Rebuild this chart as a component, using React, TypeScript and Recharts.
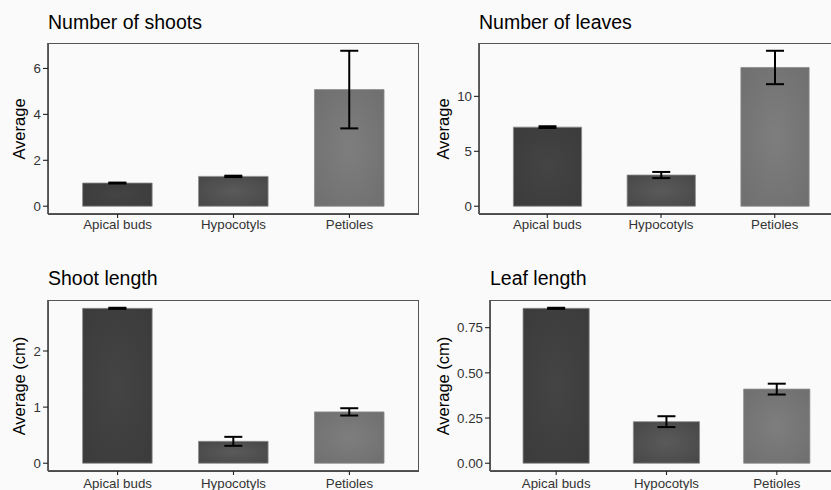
import React from 'react';
import { BarChart, Bar, XAxis, YAxis, ErrorBar, Cell } from 'recharts';

const categories = ['Apical buds', 'Hypocotyls', 'Petioles'];

const shootCount = [1.01, 1.3, 5.08];
const shootCountErr = [0.02, 0.03, 1.69];
const shootCountTicks = [0, 2, 4, 6];

const leafCount = [7.2, 2.84, 12.63];
const leafCountErr = [0.08, 0.28, 1.52];
const leafCountTicks = [0, 5, 10];

const shootLength = [2.76, 0.39, 0.915];
const shootLengthErr = [0.01, 0.08, 0.065];
const shootLengthTicks = [0, 1, 2];

const leafLength = [0.857, 0.23, 0.41];
const leafLengthErr = [0.003, 0.03, 0.03];
const leafLengthTicks = [0, 0.25, 0.5, 0.75];

const barColors = [
  ['#444444', '#3b3b3b'],
  ['#5a5a5a', '#474747'],
  ['#7e7e7e', '#6f6f6f'],
];

const FONT = '"Liberation Sans", Arial, Helvetica, sans-serif';

type Plot = { l: number; t: number; r: number; b: number };

type PanelProps = {
  id: string;
  title: string;
  yLabel: string;
  values: number[];
  errs: number[];
  ticks: number[];
  decimals: number;
  left: number;
  top: number;
  width: number;
  height: number;
  plot: Plot;
  titleBaseline: number;
  yLabelX: number;
  xTickMargin: number;
};

function Panel(p: PanelProps) {
  const data = categories.map((c, i) => ({ name: c, v: p.values[i], e: p.errs[i] }));
  const hi = Math.max(...p.values.map((v, i) => v + p.errs[i]));
  const pad = hi * 0.05;
  const plotW = p.plot.r - p.plot.l;
  const band = plotW / 3.2;
  const padPx = band * 0.1;
  const barSize = band * 0.6;
  const titleSize = 19.5;
  return (
    <div style={{ position: 'absolute', left: p.left, top: p.top, width: p.width, height: p.height }}>
      <div
        style={{
          position: 'absolute',
          left: p.plot.l,
          top: p.titleBaseline - 0.8465 * titleSize,
          fontSize: titleSize,
          lineHeight: 1,
          color: '#000',
          whiteSpace: 'nowrap',
        }}
      >
        {p.title}
      </div>
      <div
        style={{
          position: 'absolute',
          left: p.yLabelX,
          top: (p.plot.t + p.plot.b) / 2,
          transform: 'translate(-50%, -50%) rotate(-90deg)',
          fontSize: 16.5,
          lineHeight: 1,
          color: '#000',
          whiteSpace: 'nowrap',
        }}
      >
        {p.yLabel}
      </div>
      <BarChart
        width={p.width}
        height={p.height}
        data={data}
        margin={{ top: p.plot.t, right: p.width - p.plot.r, left: 0, bottom: 0 }}
      >
        <defs>
          {barColors.map((c, i) => (
            <radialGradient key={i} id={`${p.id}-g${i}`} cx="50%" cy="50%" r="70%">
              <stop offset="0%" stopColor={c[0]} />
              <stop offset="100%" stopColor={c[1]} />
            </radialGradient>
          ))}
        </defs>
        <XAxis
          dataKey="name"
          height={p.height - p.plot.b}
          padding={{ left: padPx, right: padPx }}
          interval={0}
          tickSize={4}
          tickMargin={p.xTickMargin}
          axisLine={{ stroke: '#111', strokeWidth: 1.3 }}
          tickLine={{ stroke: '#222', strokeWidth: 1.1 }}
          tick={{ fill: '#333', fontSize: 13.3, fontFamily: FONT }}
        />
        <YAxis
          type="number"
          domain={[-pad, hi + pad]}
          allowDataOverflow
          ticks={p.ticks}
          width={p.plot.l}
          tickSize={5}
          tickMargin={2}
          tickFormatter={(v: number) => v.toFixed(p.decimals)}
          axisLine={{ stroke: '#111', strokeWidth: 1.3 }}
          tickLine={{ stroke: '#222', strokeWidth: 1.1 }}
          tick={{ fill: '#333', fontSize: 13.3, fontFamily: FONT }}
        />
        <Bar dataKey="v" barSize={barSize} isAnimationActive={false} stroke="#8c8c8c" strokeWidth={0.8}>
          {data.map((d, i) => (
            <Cell key={d.name} fill={`url(#${p.id}-g${i})`} />
          ))}
          <ErrorBar dataKey="e" width={9} stroke="#000" strokeWidth={2} isAnimationActive={false} />
        </Bar>
      </BarChart>
      <div
        style={{
          position: 'absolute',
          left: p.plot.l,
          top: p.plot.t,
          width: plotW,
          height: p.plot.b - p.plot.t,
          boxSizing: 'border-box',
          border: '1px solid #555',
          pointerEvents: 'none',
        }}
      />
    </div>
  );
}

export default function App() {
  return (
    <div
      style={{
        position: 'absolute',
        left: 0,
        top: 0,
        width: 831,
        height: 490,
        overflow: 'hidden',
        background: '#fafafa',
        fontFamily: FONT,
      }}
    >
      <Panel
        id="p1"
        title="Number of shoots"
        yLabel="Average"
        values={shootCount}
        errs={shootCountErr}
        ticks={shootCountTicks}
        decimals={0}
        left={0}
        top={0}
        width={440}
        height={245}
        plot={{ l: 48, t: 43, r: 419, b: 214 }}
        titleBaseline={29.5}
        yLabelX={19}
        xTickMargin={2}
      />
      <Panel
        id="p2"
        title="Number of leaves"
        yLabel="Average"
        values={leafCount}
        errs={leafCountErr}
        ticks={leafCountTicks}
        decimals={0}
        left={415}
        top={0}
        width={440}
        height={245}
        plot={{ l: 64, t: 43, r: 428, b: 214 }}
        titleBaseline={29.5}
        yLabelX={28}
        xTickMargin={2}
      />
      <Panel
        id="p3"
        title="Shoot length"
        yLabel="Average (cm)"
        values={shootLength}
        errs={shootLengthErr}
        ticks={shootLengthTicks}
        decimals={0}
        left={0}
        top={245}
        width={440}
        height={260}
        plot={{ l: 48, t: 55, r: 419, b: 226 }}
        titleBaseline={40.5}
        yLabelX={19}
        xTickMargin={4}
      />
      <Panel
        id="p4"
        title="Leaf length"
        yLabel="Average (cm)"
        values={leafLength}
        errs={leafLengthErr}
        ticks={leafLengthTicks}
        decimals={2}
        left={415}
        top={245}
        width={440}
        height={260}
        plot={{ l: 75, t: 55, r: 428, b: 226 }}
        titleBaseline={41}
        yLabelX={28}
        xTickMargin={4}
      />
    </div>
  );
}
